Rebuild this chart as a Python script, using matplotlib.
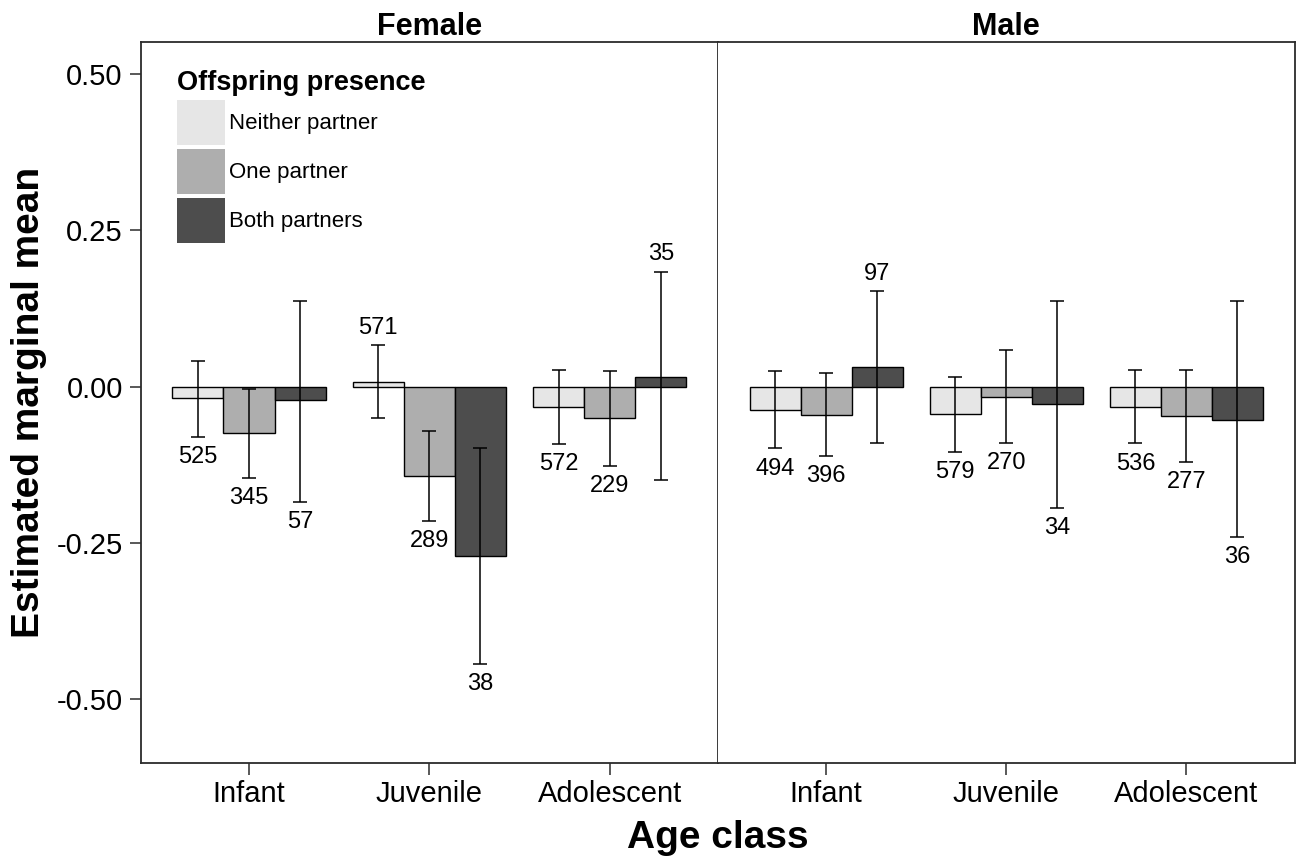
import matplotlib
matplotlib.use("Agg")
import matplotlib.pyplot as plt
from matplotlib.patches import Patch
import numpy as np

plt.rcParams['font.family'] = ['Liberation Sans', 'DejaVu Sans']

# ---------------- data ----------------
age_classes = ["Infant", "Juvenile", "Adolescent"]
sexes = ["Female", "Male"]
presence_levels = ["Neither partner", "One partner", "Both partners"]
presence_colors = ["#E6E6E6", "#AEAEAE", "#4D4D4D"]

# rows: Neither, One, Both ; columns: Infant, Juvenile, Adolescent
female_mean = [[-0.019, 0.008, -0.033],
               [-0.074, -0.143, -0.051],
               [-0.022, -0.270, 0.016]]
female_lower = [[-0.080, -0.050, -0.092],
                [-0.146, -0.215, -0.127],
                [-0.184, -0.443, -0.150]]
female_upper = [[0.041, 0.066, 0.026],
                [-0.004, -0.071, 0.025],
                [0.137, -0.098, 0.183]]
female_n = [[525, 571, 572],
            [345, 289, 229],
            [57, 38, 35]]

male_mean = [[-0.037, -0.044, -0.032],
             [-0.045, -0.016, -0.047],
             [0.032, -0.028, -0.053]]
male_lower = [[-0.099, -0.104, -0.091],
              [-0.111, -0.090, -0.121],
              [-0.090, -0.194, -0.241]]
male_upper = [[0.025, 0.016, 0.027],
              [0.021, 0.059, 0.027],
              [0.152, 0.137, 0.137]]
male_n = [[494, 579, 536],
          [396, 270, 277],
          [97, 34, 36]]

y_ticks = [0.50, 0.25, 0.00, -0.25, -0.50]
y_ticklabels = ["0.50", "0.25", "0.00", "-0.25", "-0.50"]

panels = {
    "Female": (female_mean, female_lower, female_upper, female_n),
    "Male": (male_mean, male_lower, male_upper, male_n),
}

# ---------------- layout ----------------
W, H = 1300, 859
fig = plt.figure(figsize=(W / 100, H / 100), dpi=100)

left_px, div_px, right_px = 140.7, 718.0, 1294.5
top_px, bot_px = 41.7, 763.3

def px_rect(x0, x1):
    return [x0 / W, 1 - bot_px / H, (x1 - x0) / W, (bot_px - top_px) / H]

ax1 = fig.add_axes(px_rect(left_px, div_px))
ax2 = fig.add_axes(px_rect(div_px, right_px))
axes = [ax1, ax2]

group_width = 0.85
bar_w = group_width / 3
x_base = np.arange(1, len(age_classes) + 1)
spine_color = "#2b2b2b"

for ax, sex in zip(axes, sexes):
    mean, lower, upper, counts = panels[sex]
    for j in range(3):
        xs = x_base + (j - 1) * bar_w
        m = np.array(mean[j])
        lo = np.array(lower[j])
        hi = np.array(upper[j])
        ax.bar(xs, m, width=bar_w, color=presence_colors[j],
               edgecolor="black", linewidth=1.0, zorder=2)
        ax.errorbar(xs, m, yerr=[m - lo, hi - m], fmt="none",
                    ecolor="black", elinewidth=1.1, capsize=5.3,
                    capthick=1.1, zorder=3)
        for xi, mi, loi, hii, ni in zip(xs, m, lo, hi, counts[j]):
            if mi > 0:
                ax.text(xi, hii + 0.028, str(ni), ha="center", va="center",
                        fontsize=17, zorder=4)
            else:
                ax.text(xi, loi - 0.032, str(ni), ha="center", va="center",
                        fontsize=17, zorder=4)
    ax.set_xlim(0.4, 3.6)
    ax.set_ylim(-0.602, 0.551)
    ax.set_xticks(x_base)
    ax.set_xticklabels(age_classes, fontsize=21)
    ax.tick_params(axis="x", length=8.4, width=1.1, pad=3.5, color=spine_color)
    for s in ax.spines.values():
        s.set_linewidth(1.3)
        s.set_color(spine_color)
    ax.set_facecolor("white")

ax1.set_yticks(y_ticks)
ax1.set_yticklabels(y_ticklabels, fontsize=21)
ax1.tick_params(axis="y", length=8.2, width=1.1, pad=4.7, color=spine_color)
ax2.set_yticks([])
ax2.spines["left"].set_visible(False)

# strip titles
fig.text(((left_px + div_px) / 2) / W, 1 - 35 / H, "Female", ha="center",
         va="baseline", fontsize=22, fontweight="bold")
fig.text(((div_px + right_px) / 2) / W, 1 - 35 / H, "Male", ha="center",
         va="baseline", fontsize=22, fontweight="bold")

# axis titles
fig.text(((left_px + right_px) / 2) / W, 1 - 848 / H, "Age class", ha="center",
         va="baseline", fontsize=28, fontweight="bold")
fig.text(29 / W, 1 - 402 / H, "Estimated marginal mean",
         rotation=90, ha="center", va="center", fontsize=28, fontweight="bold")

# legend
handles = [Patch(facecolor=c, edgecolor="none") for c in presence_colors]
fs_leg = 16
fs_px = fs_leg * 100 / 72
hh = (45 / fs_px - 0.245) / 0.65
leg = ax1.legend(handles, presence_levels, title="Offspring presence",
                 loc="upper left", bbox_to_anchor=(176.7 / W, 1 - 70 / H),
                 bbox_transform=fig.transFigure, frameon=False,
                 fontsize=fs_leg, title_fontproperties={"size": 19.5, "weight": "bold"},
                 handlelength=48 / fs_px, handleheight=hh,
                 labelspacing=4 / fs_px, handletextpad=4.6 / fs_px,
                 borderpad=0, borderaxespad=0, alignment="left")

fig.savefig("out.png", dpi=100, facecolor="white")
